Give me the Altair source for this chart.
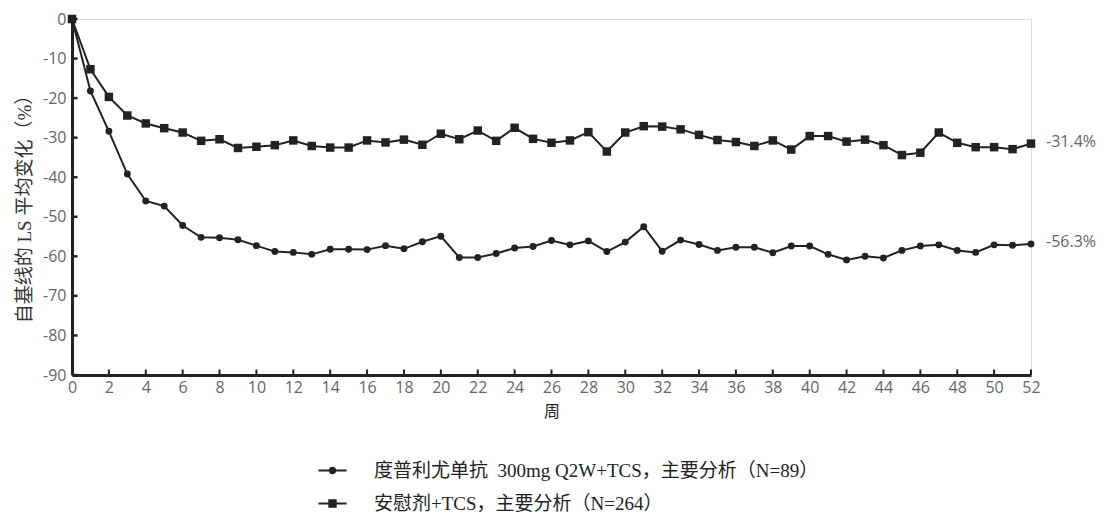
import altair as alt
import pandas as pd

weeks = list(range(53))
dupilumab = [0, -18.2, -28.4, -39.2, -46.0, -47.3, -52.2, -55.2, -55.3, -55.8,
             -57.3, -58.8, -59.0, -59.5, -58.2, -58.2, -58.3, -57.3, -58.1, -56.3,
             -54.9, -60.3, -60.3, -59.3, -57.9, -57.5, -56.0, -57.1, -56.1, -58.8,
             -56.4, -52.5, -58.7, -55.9, -57.0, -58.5, -57.7, -57.7, -59.1, -57.4,
             -57.4, -59.5, -60.9, -60.0, -60.4, -58.5, -57.4, -57.1, -58.5, -59.0,
             -57.1, -57.2, -56.9]
placebo = [0, -12.7, -19.7, -24.4, -26.4, -27.6, -28.7, -30.8, -30.4, -32.6,
           -32.3, -31.9, -30.7, -32.1, -32.5, -32.5, -30.7, -31.2, -30.5, -31.8,
           -29.0, -30.4, -28.2, -30.8, -27.5, -30.3, -31.3, -30.7, -28.6, -33.5,
           -28.7, -27.1, -27.2, -27.9, -29.3, -30.6, -31.1, -32.1, -30.7, -33.0,
           -29.6, -29.6, -31.0, -30.5, -31.9, -34.4, -33.8, -28.7, -31.3, -32.4,
           -32.4, -32.9, -31.5]
series_names = ["度普利尤单抗 \u00a0300mg Q2W+TCS，主要分析（N=89）", "安慰剂+TCS，主要分析（N=264）"]
end_labels = ["-56.3%", "-31.4%"]
x_ticks = list(range(0, 53, 2))
y_ticks = list(range(-90, 1, 10))
x_title = "周"
y_title = "自基线的 LS 平均变化（%）"

df = pd.DataFrame({
    "week": weeks * 2,
    "value": dupilumab + placebo,
    "series": [series_names[0]] * len(weeks) + [series_names[1]] * len(weeks),
})
end_df = pd.DataFrame({
    "week": [weeks[-1], weeks[-1]],
    "value": [dupilumab[-1], placebo[-1]],
    "label": end_labels,
})
xt_df = pd.DataFrame({"t": x_ticks})
yt_df = pd.DataFrame({"t": y_ticks})

INK = "#222222"
GRAY = "#666666"
LABEL_FONT = "Open Sans"
MIXED = "Liberation Serif, Noto Sans CJK SC"
CJK = "Noto Sans CJK SC"

xscale = alt.Scale(domain=[0, 52], nice=False, zero=False)
yscale = alt.Scale(domain=[-90, 0], nice=False, zero=False)

xaxis = alt.Axis(values=x_ticks, tickCount=200, title=x_title, tickSize=0, labelPadding=4,
                 grid=False, domainColor=INK, domainWidth=3,
                 labelColor=GRAY, labelFontSize=16, labelFont=LABEL_FONT,
                 labelOverlap=False, labelExpr="datum.value + ''",
                 titleFont=CJK, titleFontSize=16, titleFontWeight="normal",
                 titleColor=INK, titlePadding=8, labelFlush=False)
yaxis = alt.Axis(values=y_ticks, tickCount=200, title=y_title, tickSize=0, labelPadding=6,
                 grid=False, domainColor=INK, domainWidth=3,
                 labelColor=GRAY, labelFontSize=16, labelFont=LABEL_FONT,
                 labelOverlap=False, labelExpr="datum.value + ''",
                 titleFont=MIXED, titleFontSize=19, titleFontWeight="normal",
                 titleColor="#333333", titlePadding=8, labelFlush=False,
                 titleY=185)

# legend symbols: thin filled bar (the line) plus the marker, all filled
bar = "M-1.5,-0.1L1.5,-0.1L1.5,0.1L-1.5,0.1Z"
legend_circle = bar + "M-0.4,0A0.4,0.4 0 1,1 0.4,0A0.4,0.4 0 1,1 -0.4,0Z"
legend_square = bar + "M-0.45,-0.45L0.45,-0.45L0.45,0.45L-0.45,0.45Z"

legend = alt.Legend(
    orient="none", legendX=251, legendY=442, direction="vertical", title=None,
    labelFont=MIXED, labelFontSize=19, labelColor=INK, labelOffset=32,
    rowPadding=13, labelLimit=800, symbolSize=350, symbolOpacity=1,
    symbolFillColor=INK, symbolStrokeWidth=0,
)

base = alt.Chart(df)
lines = base.mark_line(color=INK, strokeWidth=2).encode(
    x=alt.X("week:Q", scale=xscale, axis=xaxis),
    y=alt.Y("value:Q", scale=yscale, axis=yaxis),
    detail="series:N",
)
legend_layer = base.transform_filter("datum.week < 0").mark_point(
    filled=True, color=INK, opacity=1).encode(
    x=alt.X("week:Q", scale=xscale, axis=xaxis),
    y=alt.Y("value:Q", scale=yscale, axis=yaxis),
    shape=alt.Shape("series:N",
                    scale=alt.Scale(domain=series_names, range=[legend_circle, legend_square]),
                    legend=legend),
)
circles = base.transform_filter(alt.datum.series == series_names[0]).mark_point(
    filled=True, color=INK, opacity=1, shape="circle", size=48).encode(
    x=alt.X("week:Q", scale=xscale, axis=xaxis),
    y=alt.Y("value:Q", scale=yscale, axis=yaxis),
)
squares = base.transform_filter(alt.datum.series == series_names[1]).mark_point(
    filled=True, color=INK, opacity=1, shape="square", size=72).encode(
    x=alt.X("week:Q", scale=xscale, axis=xaxis),
    y=alt.Y("value:Q", scale=yscale, axis=yaxis),
)
labels = alt.Chart(end_df).mark_text(align="left", baseline="middle", dx=15, dy=-2,
                                     font=LABEL_FONT, fontSize=16, color=GRAY).encode(
    x=alt.X("week:Q", scale=xscale, axis=xaxis),
    y=alt.Y("value:Q", scale=yscale, axis=yaxis),
    text="label:N",
)
xticks = alt.Chart(xt_df).mark_rule(color=INK, strokeWidth=2).encode(
    x=alt.X("t:Q", scale=xscale, axis=xaxis),
    y=alt.datum(-90),
    y2=alt.datum(-88.6),
)
yticks = alt.Chart(yt_df).mark_rule(color=INK, strokeWidth=2.5).encode(
    y=alt.Y("t:Q", scale=yscale, axis=yaxis),
    x=alt.datum(0),
    x2=alt.datum(0.3),
)

chart = alt.layer(lines, xticks, yticks, legend_layer, circles, squares, labels).properties(
    width=959, height=356,
    autosize=alt.AutoSizeParams(type="none"),
    padding={"left": 64, "top": 11, "right": 65, "bottom": 140},
).configure_view(stroke=None).configure(background="white").configure_axis(
    labelOverlap=False, labelBound=False
)

chart.save("out.html", embed_options={"renderer": "svg", "actions": False})
